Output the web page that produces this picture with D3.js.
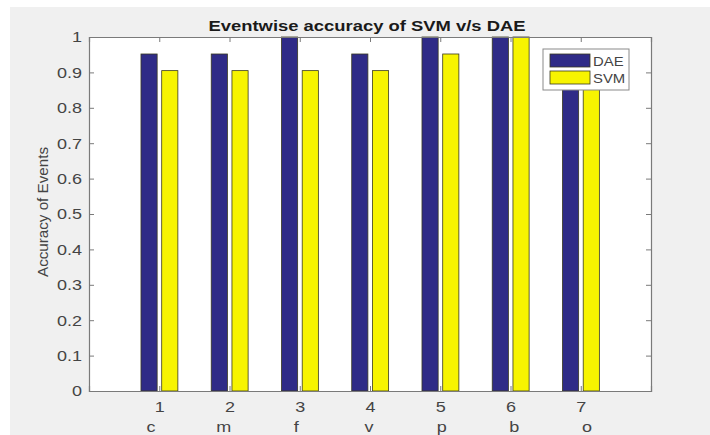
<!DOCTYPE html>
<html><head><meta charset="utf-8">
<script src="https://cdn.jsdelivr.net/npm/d3@7"></script>
<style>
html,body{margin:0;padding:0;background:#fff;}
svg{display:block;}
text{font-family:"Liberation Sans",Arial,Helvetica,sans-serif;}
</style></head>
<body>
<svg id="chart" width="710" height="435"></svg>
<script>
const categories = [1, 2, 3, 4, 5, 6, 7];
const eventLabels = ["c", "m", "f", "v", "p", "b", "o"];
const seriesNames = ["DAE", "SVM"];
const daeValues = [0.952, 0.952, 1.0, 0.952, 1.0, 1.0, 0.952];
const svmValues = [0.905, 0.905, 0.905, 0.905, 0.952, 1.0, 0.952];
const yTicks = [0, 0.1, 0.2, 0.3, 0.4, 0.5, 0.6, 0.7, 0.8, 0.9, 1];
const title = "Eventwise accuracy of SVM v/s DAE";
const yLabel = "Accuracy of Events";

const colors = {DAE: "#2f2b87", SVM: "#f7f400"};
const svg = d3.select("#chart");
const W = 710, H = 435;
const m = {left: 89, right: 59, top: 37, bottom: 44};
const pw = W - m.left - m.right, ph = H - m.top - m.bottom;
const stretch = 1.2;
function widen(sel, f) {
  sel.each(function () {
    const L = this.getComputedTextLength();
    if (L > 0) d3.select(this).attr("textLength", L * f).attr("lengthAdjust", "spacingAndGlyphs");
  });
}

// figure background
svg.append("rect").attr("x", 0).attr("y", 0).attr("width", W).attr("height", H).attr("fill", "#fff");
svg.append("rect").attr("x", 10).attr("y", 7).attr("width", W - 10).attr("height", H - 7).attr("fill", "#f0f0f0");

const x = d3.scaleLinear().domain([0, 8]).range([m.left, m.left + pw]);
const y = d3.scaleLinear().domain([0, 1]).range([m.top + ph, m.top]);

svg.append("rect").attr("x", m.left).attr("y", m.top).attr("width", pw).attr("height", ph).attr("fill", "#fff");

// bars
const bw = 0.23, offs = [-0.145, 0.15];
const series = [daeValues, svmValues];
series.forEach((vals, si) => {
  svg.append("g").selectAll("rect").data(categories).join("rect")
    .attr("x", (d, i) => x(d + offs[si] - bw / 2))
    .attr("width", x(bw) - x(0))
    .attr("y", (d, i) => y(vals[i]))
    .attr("height", (d, i) => y(0) - y(vals[i]))
    .attr("fill", colors[seriesNames[si]])
    .attr("stroke", "#3a3a20").attr("stroke-width", 0.8);
});

const axisColor = "#7a7a7a", textColor = "#444";
// axes
const gl = svg.append("g").attr("transform", `translate(${m.left},0)`)
  .call(d3.axisLeft(y).tickValues(yTicks).tickSize(-5).tickPadding(7).tickFormat(d3.format("~g")));
const gr = svg.append("g").attr("transform", `translate(${m.left + pw},0)`)
  .call(d3.axisRight(y).tickValues(yTicks).tickSize(-5).tickFormat(""));
const gb = svg.append("g").attr("transform", `translate(0,${m.top + ph})`)
  .call(d3.axisBottom(x).tickValues(categories).tickSize(-5).tickPadding(10).tickFormat(d3.format("d")));
const gt = svg.append("g").attr("transform", `translate(0,${m.top})`)
  .call(d3.axisTop(x).tickValues(categories).tickSize(-5).tickFormat(""));
[gl, gr, gb, gt].forEach(g => {
  g.select(".domain").attr("stroke", axisColor).attr("stroke-width", 1.2);
  g.selectAll(".tick line").attr("stroke", axisColor);
  g.selectAll("text").attr("fill", textColor).attr("font-size", 15)
    .attr("font-family", '"Liberation Sans",Arial,sans-serif');
});
widen(gl.selectAll("text"), stretch);
widen(gb.selectAll("text"), stretch);

// event letters row
const xe = d3.scalePoint().domain(eventLabels).range([151, 587]);
const ev = svg.append("g").selectAll("text").data(eventLabels).join("text")
  .attr("x", d => xe(d)).attr("y", 432).attr("text-anchor", "middle")
  .attr("font-size", 15).attr("fill", textColor).text(d => d);
widen(ev, stretch);

// title
svg.append("text").attr("x", 367).attr("y", 31).attr("text-anchor", "middle")
  .attr("font-size", 15).attr("font-weight", "bold").attr("fill", "#1a1a1a")
  .attr("textLength", 317).attr("lengthAdjust", "spacingAndGlyphs").text(title);

// y label
svg.append("text").attr("transform", `translate(48,${m.top + ph / 2 - 2}) rotate(-90)`)
  .attr("text-anchor", "middle").attr("font-size", 15.5).attr("fill", textColor)
  .attr("textLength", 130).attr("lengthAdjust", "spacingAndGlyphs")
  .text(yLabel);

// legend
const lg = svg.append("g").attr("transform", "translate(543,49)");
lg.append("rect").attr("width", 86).attr("height", 41).attr("fill", "#fff")
  .attr("stroke", "#8a8a8a").attr("stroke-width", 1);
seriesNames.forEach((s, i) => {
  lg.append("rect").attr("x", 7).attr("y", 5 + i * 17).attr("width", 40).attr("height", 13)
    .attr("fill", colors[s]).attr("stroke", "#3a3a20").attr("stroke-width", 0.8);
  const t = lg.append("text").attr("x", 50).attr("y", 17 + i * 17).attr("font-size", 13.5)
    .attr("fill", textColor).text(s);
  widen(t, 1.1);
});
</script>
</body></html>
